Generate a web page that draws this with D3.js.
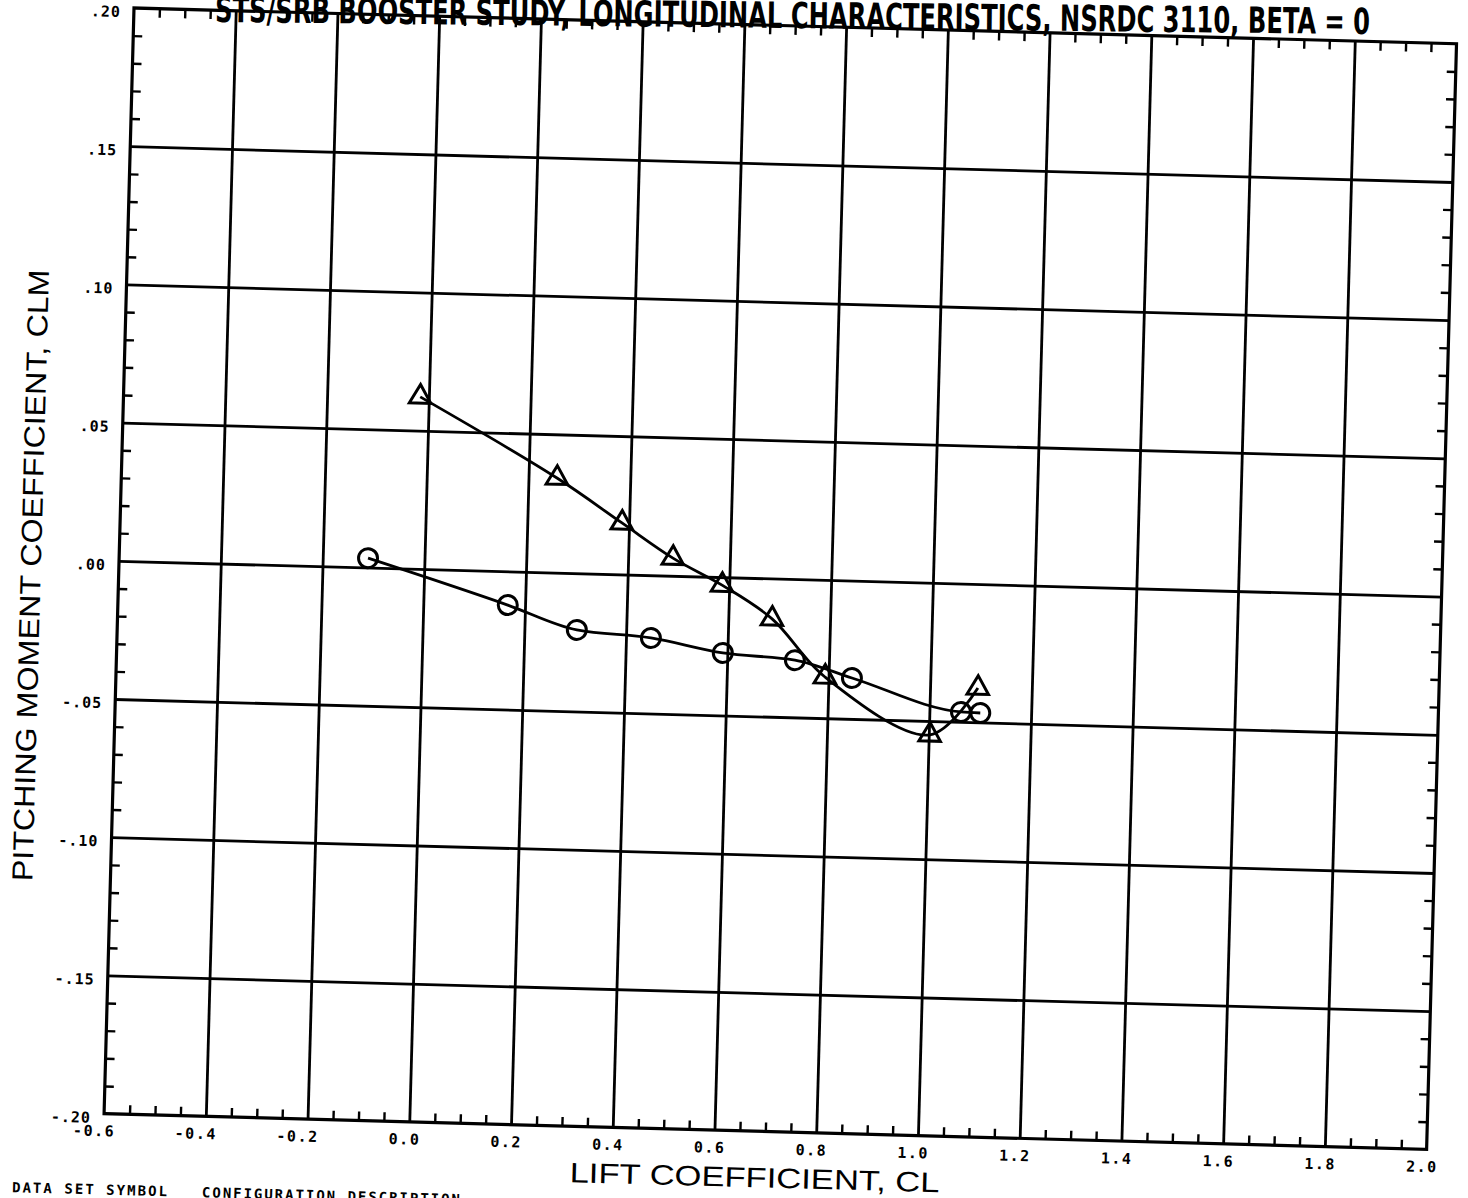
<!DOCTYPE html>
<html>
<head>
<meta charset="utf-8">
<script src="https://cdn.jsdelivr.net/npm/d3@7"></script>
<style>
body { margin: 0; background: #fff; }
svg { display: block; }
</style>
</head>
<body>
<svg id="chart" width="1468" height="1198"></svg>
<script>
// axis ticks and labels
const xTicks = [-0.6, -0.4, -0.2, 0.0, 0.2, 0.4, 0.6, 0.8, 1.0, 1.2, 1.4, 1.6, 1.8, 2.0];
const xTickLabels = ['-0.6', '-0.4', '-0.2', '0.0', '0.2', '0.4', '0.6', '0.8', '1.0', '1.2', '1.4', '1.6', '1.8', '2.0'];
const yTicks = [-0.20, -0.15, -0.10, -0.05, 0.00, 0.05, 0.10, 0.15, 0.20];
const yTickLabels = ['-.20', '-.15', '-.10', '-.05', '.00', '.05', '.10', '.15', '.20'];

// data set with triangle symbol
const triCL = [-0.017, 0.256, 0.386, 0.488, 0.586, 0.686, 0.793, 1.002, 1.094];
const triCM = [0.0622, 0.0342, 0.0186, 0.0064, -0.0029, -0.0146, -0.0351, -0.0550, -0.0376];
// data set with circle symbol
const cirCL = [-0.111, 0.166, 0.303, 0.449, 0.591, 0.733, 0.846, 1.062, 1.100];
const cirCM = [0.0034, -0.0122, -0.0205, -0.0227, -0.0274, -0.0293, -0.0352, -0.0464, -0.0466];

const titleText = 'STS/SRB BOOSTER STUDY, LONGITUDINAL CHARACTERISTICS, NSRDC 3110, BETA = 0';

const svg = d3.select('#chart');
svg.append('rect').attr('width', 1468).attr('height', 1198).attr('fill', 'white');

const W = 1323, H = 1106;
const ink = '#000';
// the scanned sheet sits a little crooked
const plot = svg.append('g').attr('transform', 'translate(134,8) rotate(1.55)');

const x = d3.scaleLinear().domain([-0.6, 2.0]).range([0, W]);
const y = d3.scaleLinear().domain([-0.2, 0.2]).range([H, 0]);

// grid lines
plot.append('g').attr('transform', 'translate(0,' + H + ')')
  .call(d3.axisBottom(x).tickValues(xTicks.slice(1, -1)).tickSize(-H).tickFormat(''))
  .call(g => g.select('.domain').remove())
  .selectAll('line').attr('stroke', ink).attr('stroke-width', 2.8);
plot.append('g')
  .call(d3.axisLeft(y).tickValues(yTicks.slice(1, -1)).tickSize(-W).tickFormat(''))
  .call(g => g.select('.domain').remove())
  .selectAll('line').attr('stroke', ink).attr('stroke-width', 2.8);

// minor ticks, pointing inward
const xMinor = d3.range(-12, 41).filter(i => i % 4 !== 0).map(i => i * 0.05);
const yMinor = d3.range(-20, 21).filter(i => i % 5 !== 0).map(i => i * 0.01);
function minor(axis) {
  return g => {
    g.call(axis.tickSize(-9).tickFormat(''));
    g.select('.domain').remove();
    g.selectAll('line').attr('stroke', ink).attr('stroke-width', 2.4);
  };
}
plot.append('g').call(minor(d3.axisTop(x).tickValues(xMinor)));
plot.append('g').attr('transform', 'translate(0,' + H + ')').call(minor(d3.axisBottom(x).tickValues(xMinor)));
plot.append('g').call(minor(d3.axisLeft(y).tickValues(yMinor)));
plot.append('g').attr('transform', 'translate(' + W + ',0)').call(minor(d3.axisRight(y).tickValues(yMinor)));

// frame
plot.append('rect').attr('x', 0).attr('y', 0).attr('width', W).attr('height', H)
  .attr('fill', 'none').attr('stroke', ink).attr('stroke-width', 3.2);

// tick labels
const xLab = plot.append('g').attr('transform', 'translate(0,' + H + ')')
  .call(d3.axisBottom(x).tickValues(xTicks).tickSize(0).tickPadding(12)
    .tickFormat((d, i) => xTickLabels[i]));
xLab.select('.domain').remove();
xLab.attr('font-family', 'DejaVu Sans Mono').attr('font-size', 15).attr('font-weight', 'bold');
xLab.selectAll('text').attr('text-anchor', 'end').attr('dx', 11)
  .attr('letter-spacing', 1.5).attr('fill', ink);

const yLab = plot.append('g')
  .call(d3.axisLeft(y).tickValues(yTicks).tickSize(0).tickPadding(13)
    .tickFormat((d, i) => yTickLabels[i]));
yLab.select('.domain').remove();
yLab.attr('font-family', 'DejaVu Sans Mono').attr('font-size', 15).attr('font-weight', 'bold');
yLab.selectAll('text').attr('dy', '0.6em').attr('letter-spacing', 1).attr('fill', ink);

// curves
const triPts = d3.zip(triCL, triCM);
const cirPts = d3.zip(cirCL, cirCM);
const curveLine = d3.line().x(d => x(d[0])).y(d => y(d[1]));

plot.append('path').datum(triPts)
  .attr('d', curveLine.curve(d3.curveCatmullRom.alpha(0.5)))
  .attr('fill', 'none').attr('stroke', ink).attr('stroke-width', 2.8);
plot.append('path').datum(cirPts)
  .attr('d', curveLine.curve(d3.curveMonotoneX))
  .attr('fill', 'none').attr('stroke', ink).attr('stroke-width', 2.8);

// symbols
plot.selectAll('.tri').data(triPts).join('path').attr('class', 'tri')
  .attr('d', d3.symbol().type(d3.symbolTriangle).size(200))
  .attr('transform', d => 'translate(' + x(d[0]) + ',' + y(d[1]) + ')')
  .attr('fill', 'none').attr('stroke', ink).attr('stroke-width', 3);
plot.selectAll('.cir').data(cirPts).join('circle').attr('class', 'cir')
  .attr('cx', d => x(d[0])).attr('cy', d => y(d[1])).attr('r', 9.5)
  .attr('fill', 'none').attr('stroke', ink).attr('stroke-width', 3);

// axis titles
plot.append('text').text('LIFT COEFFICIENT, CL')
  .attr('x', 652).attr('y', 1162).attr('text-anchor', 'middle')
  .attr('font-family', 'Liberation Sans').attr('font-size', 28)
  .attr('textLength', 370).attr('lengthAdjust', 'spacingAndGlyphs').attr('fill', ink);

plot.append('text').text('PITCHING MOMENT COEFFICIENT, CLM')
  .attr('transform', 'translate(-78,570) rotate(-90)').attr('text-anchor', 'middle')
  .attr('font-family', 'Liberation Sans').attr('font-size', 29)
  .attr('textLength', 612).attr('lengthAdjust', 'spacingAndGlyphs').attr('fill', ink);

// legend header at the sheet edge
plot.append('text').text('DATA SET SYMBOL')
  .attr('x', -90).attr('y', 1187)
  .attr('font-family', 'DejaVu Sans Mono').attr('font-size', 14).attr('font-weight', 'bold')
  .attr('textLength', 155).attr('fill', ink);
plot.append('text').text('CONFIGURATION DESCRIPTION')
  .attr('x', 100).attr('y', 1187)
  .attr('font-family', 'DejaVu Sans Mono').attr('font-size', 14).attr('font-weight', 'bold')
  .attr('textLength', 258).attr('fill', ink);

// title, its top clipped by the sheet edge
svg.append('text').text(titleText)
  .attr('transform', 'translate(215,22) rotate(0.6)')
  .attr('font-family', 'Liberation Sans Narrow, DejaVu Sans Condensed, Liberation Sans')
  .attr('font-size', 36).attr('font-weight', 'bold')
  .attr('textLength', 1155).attr('lengthAdjust', 'spacingAndGlyphs').attr('fill', ink);
</script>
</body>
</html>
